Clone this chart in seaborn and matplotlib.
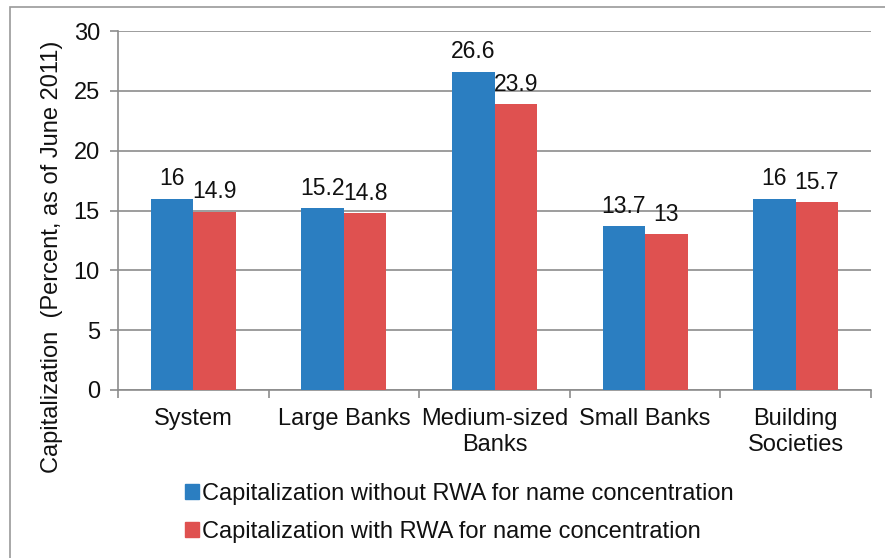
import pandas as pd
import matplotlib.pyplot as plt
import matplotlib.patches as mpatches
import seaborn as sns

categories = ["System", "Large Banks", "Medium-sized\nBanks", "Small Banks", "Building\nSocieties"]
without_rwa = [16, 15.2, 26.6, 13.7, 16]
with_rwa = [14.9, 14.8, 23.9, 13, 15.7]
series_names = ["Capitalization without RWA for name concentration",
                "Capitalization with RWA for name concentration"]
value_labels_a = ["16", "15.2", "26.6", "13.7", "16"]
value_labels_b = ["14.9", "14.8", "23.9", "13", "15.7"]

df = pd.DataFrame({
    "cat": categories * 2,
    "value": without_rwa + with_rwa,
    "series": [series_names[0]] * 5 + [series_names[1]] * 5,
})

sns.set_theme(style="white")
plt.rcParams['font.family'] = ['Liberation Sans', 'DejaVu Sans']

fig = plt.figure(figsize=(8.85, 5.58), dpi=100)
ax = fig.add_axes([118 / 885, 1 - 390 / 558, (871 - 118) / 885, (390 - 31) / 558])

colors = ["#2B7EC1", "#DF5150"]
sns.barplot(data=df, x="cat", y="value", hue="series", palette=colors,
            width=0.565, saturation=1, ax=ax, legend=False, zorder=3,
            linewidth=0)

for cont, labels in zip(ax.containers, [value_labels_a, value_labels_b]):
    ax.bar_label(cont, labels=labels, padding=6, fontsize=16.5, color="#111111")

ax.set_ylim(0, 30)
ax.set_xlim(-0.5, 4.5)
ax.set_yticks(range(0, 31, 5))
ax.yaxis.grid(True, color="#8c8c8c", linewidth=1.2, zorder=0)
ax.tick_params(axis="y", labelsize=17, length=6, width=1.2, color="#8c8c8c",
               left=True, pad=7, labelcolor="#111111")
ax.tick_params(axis="x", labelsize=17, length=0, pad=13, labelcolor="#111111")
ax.set_xticks(range(5))
ax.set_xticklabels(categories, linespacing=1.25)
ax.set_xticks([i - 0.5 for i in range(6)], minor=True)
ax.tick_params(axis="x", which="minor", bottom=True, length=6, width=1.2, color="#8c8c8c")
ax.set_xlabel("")
ax.set_ylabel("")
fig.text(52 / 885, 1 - 257 / 558, "Capitalization  (Percent, as of June 2011)",
         rotation=90, ha="center", va="center", fontsize=17, color="#111111")

for side in ["top", "right"]:
    ax.spines[side].set_visible(False)
for side in ["left", "bottom"]:
    ax.spines[side].set_color("#8c8c8c")
    ax.spines[side].set_linewidth(1.2)

handles = [mpatches.Patch(color=c, label=n) for c, n in zip(colors, series_names)]
fig.legend(handles=handles, loc="upper left", bbox_to_anchor=(164 / 885, 1 - 462 / 558),
           frameon=False, fontsize=17, handlelength=0.6, handleheight=0.6,
           handletextpad=0.1, labelspacing=0.65, labelcolor="#111111")

# outer chart border
fig.patches.append(mpatches.Rectangle((10 / 885, -0.01), 1.0, 1 - 7 / 558 + 0.01,
                                      transform=fig.transFigure, fill=False,
                                      edgecolor="#9a9a9a", linewidth=1.2))

fig.savefig("out.png", dpi=100)
